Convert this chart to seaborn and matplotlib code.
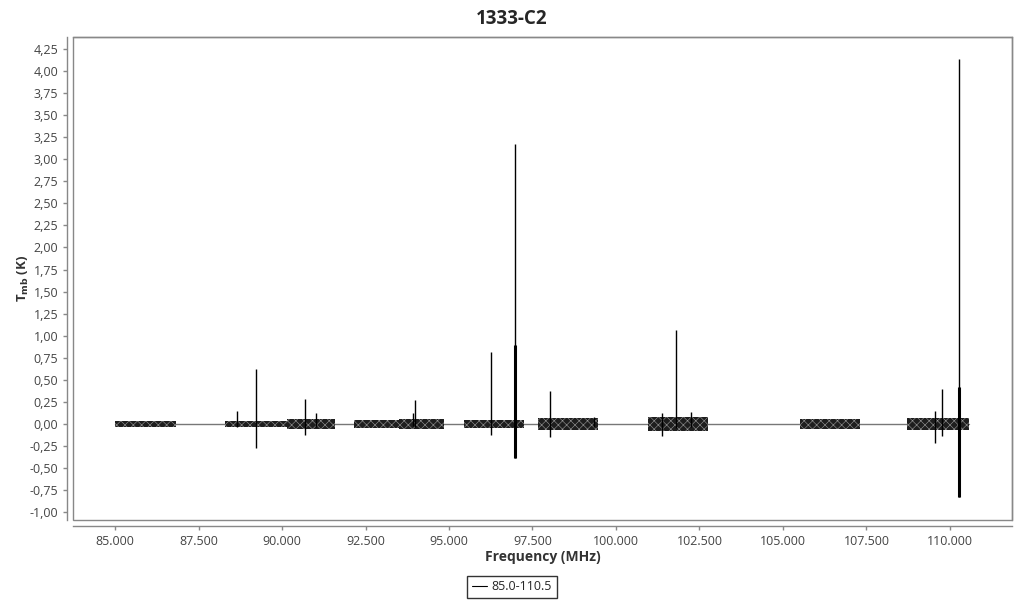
import matplotlib
matplotlib.use("Agg")
import matplotlib.pyplot as plt
import matplotlib.ticker as mticker
from matplotlib.patches import Rectangle
from matplotlib.lines import Line2D
import seaborn as sns
import pandas as pd

# noise bands of the spectrum (MHz, K)
band_start = [85000, 88290, 90150, 92160, 93500, 95450, 97670, 100960, 105510, 108710]
band_end = [86830, 90150, 91590, 93500, 94850, 97250, 99460, 102750, 107300, 110570]
band_lo = [-0.03, -0.03, -0.06, -0.04, -0.06, -0.05, -0.07, -0.08, -0.06, -0.07]
band_hi = [0.03, 0.03, 0.06, 0.04, 0.06, 0.05, 0.07, 0.08, 0.06, 0.07]

# lines (MHz, peak K, trough K)
line_freq = [88650, 89220, 90690, 91020, 93930, 93990, 96260, 96980, 98030, 99340,
             101380, 101800, 102250, 109550, 109770, 110270]
line_top = [0.15, 0.62, 0.28, 0.12, 0.12, 0.27, 0.82, 3.17, 0.37, 0.08,
            0.13, 1.07, 0.14, 0.15, 0.40, 4.14]
line_bot = [-0.03, -0.27, -0.12, -0.03, -0.02, -0.03, -0.13, -0.39, -0.15, -0.03,
            -0.14, -0.04, -0.03, -0.22, -0.14, -0.83]
# broad core of the strongest lines
core_freq = [96980, 110270]
core_top = [0.90, 0.42]
core_bot = [-0.39, -0.83]

series_name = "85.0-110.5"
x_ticks = [85000, 87500, 90000, 92500, 95000, 97500, 100000, 102500, 105000, 107500, 110000]

sns.set_style("white")
plt.rcParams['font.family'] = ['Open Sans', 'DejaVu Sans']
plt.rcParams['hatch.linewidth'] = 0.4

fig = plt.figure(figsize=(10.24, 6), dpi=100)
ax = fig.add_axes([0.0713, 0.1333, 0.917, 0.805])

base = pd.DataFrame({"freq": [band_start[0], band_end[-1]], "tmb": [0, 0]})
sns.lineplot(data=base, x="freq", y="tmb", ax=ax, color="#777777", lw=1, legend=False)

# noisy channels drawn as textured strips
for s, e, lo, hi in zip(band_start, band_end, band_lo, band_hi):
    ax.fill_between([s, e], [lo, lo], [hi, hi], facecolor="#1e1e1e",
                    edgecolor="#9a9a9a", hatch="xxxx", lw=0, zorder=3)

ax.vlines(line_freq, line_bot, line_top, color="black", lw=1, zorder=4)
ax.vlines(core_freq, core_bot, core_top, color="black", lw=2.2, zorder=4)

ax.set_xlim(83740, 111860)
ax.set_ylim(-1.088, 4.385)
ax.set_xticks(x_ticks)
ax.xaxis.set_major_formatter(mticker.FuncFormatter(lambda v, p: f"{v:,.0f}".replace(",", ".")))
ax.yaxis.set_major_locator(mticker.MultipleLocator(0.25))
ax.yaxis.set_major_formatter(mticker.FuncFormatter(lambda v, p: f"{v:.2f}".replace(".", ",")))

gray = "#888888"
for side in ["left", "bottom", "top", "right"]:
    ax.spines[side].set_color(gray)
    ax.spines[side].set_linewidth(1)
ax.spines["left"].set_position(("outward", 4))
ax.spines["bottom"].set_position(("outward", 4))
ax.add_patch(Rectangle((0, 0), 1, 1, transform=ax.transAxes, fill=False,
                       edgecolor=gray, lw=1, clip_on=False, zorder=5))
ax.tick_params(axis="both", which="major", length=3, width=1, color=gray,
               labelsize=9, labelcolor="#444444", direction="out",
               left=True, bottom=True)

ax.set_xlabel("Frequency (MHz)", fontsize=10, fontweight="bold", color="#333333", labelpad=2)
ax.set_ylabel(r"T$_{\mathbf{mb}}$ (K)", fontsize=9.5, fontweight="bold", color="#333333")
ax.yaxis.set_label_coords(-0.045, 0.5)
fig.suptitle("1333-C2", fontsize=13.5, fontweight="bold", y=0.985)

handle = Line2D([], [], color="black", lw=0.8)
leg = fig.legend([handle], [series_name], loc="center", bbox_to_anchor=(0.5, 0.022),
                 frameon=True, fancybox=False, fontsize=9, handlelength=1.2,
                 handletextpad=0.4, borderpad=0.35)
leg.get_frame().set_edgecolor("black")
leg.get_frame().set_linewidth(1)

fig.savefig("out.png", dpi=100)
